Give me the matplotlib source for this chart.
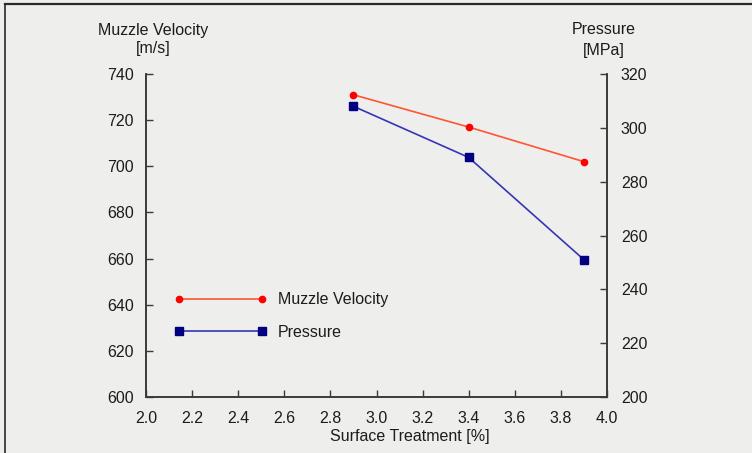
import matplotlib.pyplot as plt
from matplotlib.lines import Line2D

plt.rcParams['font.family'] = ['Liberation Sans', 'DejaVu Sans']

# surface treatment levels and measured results
treatment = [2.9, 3.4, 3.9]
velocity = [731, 717, 702]      # m/s
pressure = [308, 289, 251]      # MPa

x_ticks = [2.0, 2.2, 2.4, 2.6, 2.8, 3.0, 3.2, 3.4, 3.6, 3.8, 4.0]
v_ticks = [600, 620, 640, 660, 680, 700, 720, 740]
p_ticks = [200, 220, 240, 260, 280, 300, 320]

paper = '#eeeeec'
ink = '#1c1c1c'
axis_col = '#3a3a3a'

fig = plt.figure(figsize=(7.52, 4.53), dpi=100, facecolor=paper)
ax = fig.add_axes([146 / 752, 56 / 453, 461 / 752, 323 / 453])
ax.set_facecolor('none')
ax2 = ax.twinx()

l1, = ax.plot(treatment, velocity, color='#ff5530', lw=1.2, marker='o',
              markersize=4.5, markerfacecolor='#ff0000', markeredgecolor='#ff0000',
              label='Muzzle Velocity')
l2, = ax2.plot(treatment, pressure, color='#3535b5', lw=1.2, marker='s',
               markersize=5.5, markerfacecolor='#000080', markeredgecolor='#000080',
               label='Pressure')

ax.set_xlim(2.0, 4.0)
ax.set_ylim(600, 740)
ax2.set_ylim(200, 320)
ax.set_xticks(x_ticks)
ax.set_xticklabels([f'{t:.1f}' for t in x_ticks])
ax.set_yticks(v_ticks)
ax2.set_yticks(p_ticks)

for a in (ax, ax2):
    a.spines['top'].set_visible(False)
    for s in ('left', 'right', 'bottom'):
        a.spines[s].set_color(axis_col)
        a.spines[s].set_linewidth(1.2)

ax.tick_params(axis='x', direction='in', length=5, width=1, color=axis_col,
               labelsize=11.5, labelcolor=ink, pad=10)
ax.tick_params(axis='y', direction='in', length=5, width=1, color=axis_col,
               labelsize=11.5, labelcolor=ink, pad=9)
ax2.tick_params(axis='y', direction='in', length=5, width=1, color=axis_col,
                labelsize=11.5, labelcolor=ink, pad=10)

# axis titles sit above the scales
fig.text(153 / 752, 1 - 30 / 453, 'Muzzle Velocity', ha='center', va='center',
         fontsize=11.5, color=ink)
fig.text(153 / 752, 1 - 49 / 453, '[m/s]', ha='center', va='center',
         fontsize=11.5, color=ink)
fig.text(604 / 752, 1 - 30 / 453, 'Pressure', ha='center', va='center',
         fontsize=11.5, color=ink)
fig.text(604 / 752, 1 - 50 / 453, '[MPa]', ha='center', va='center',
         fontsize=11.5, color=ink)
fig.text(410 / 752, 1 - 437 / 453, 'Surface Treatment [%]', ha='center',
         va='center', fontsize=11.5, color=ink)

leg = ax2.legend(handles=[l1, l2], loc='center left',
                 bbox_to_anchor=((174 - 146) / 461, (397 - 316) / 323),
                 frameon=False, numpoints=2, handlelength=5.8,
                 handletextpad=0.7, labelspacing=1.1, borderpad=0,
                 borderaxespad=0, fontsize=11.5)
for t in leg.get_texts():
    t.set_color(ink)

# page frame around the figure
fig.add_artist(Line2D([5 / 752, 1], [1 - 4 / 453, 1 - 4 / 453],
                      transform=fig.transFigure, color='#2a2a2a', lw=1.6))
fig.add_artist(Line2D([5 / 752, 5 / 752], [0, 1 - 4 / 453],
                      transform=fig.transFigure, color='#2a2a2a', lw=1.2))

fig.savefig('out.png', dpi=100, facecolor=paper)
